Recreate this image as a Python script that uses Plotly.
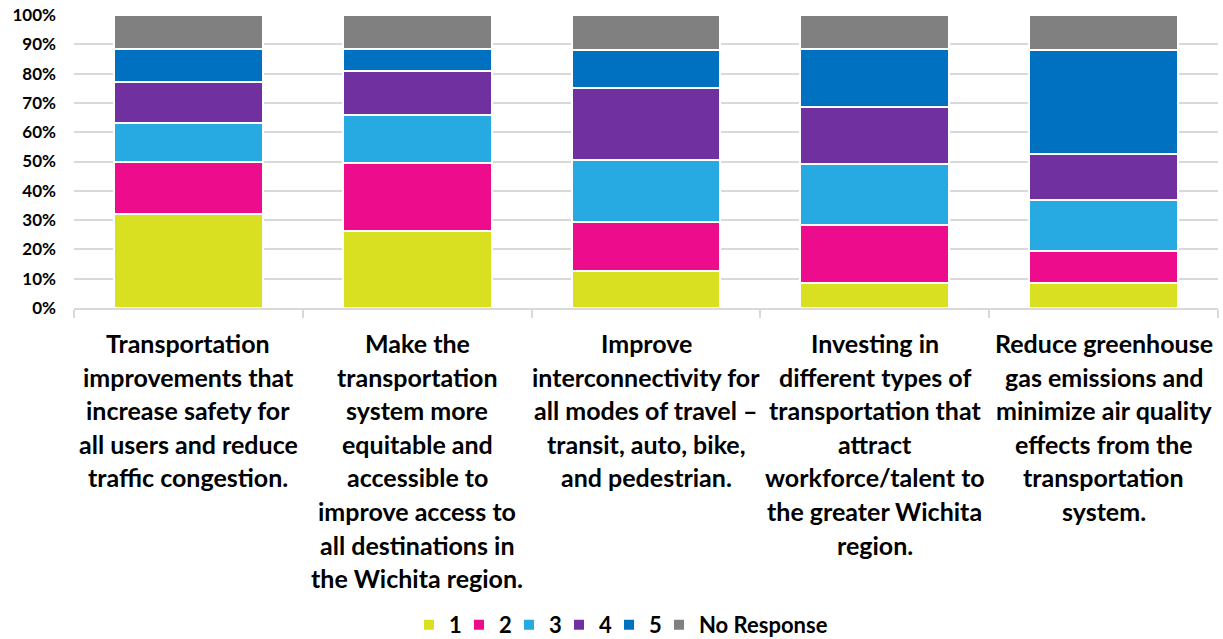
import plotly.graph_objects as go

categories = [
    "Transportation improvements that increase safety for all users and reduce traffic congestion.",
    "Make the transportation system more equitable and accessible to improve access to all destinations in the Wichita region.",
    "Improve interconnectivity for all modes of travel – transit, auto, bike, and pedestrian.",
    "Investing in different types of transportation that attract workforce/talent to the greater Wichita region.",
    "Reduce greenhouse gas emissions and minimize air quality effects from the transportation system.",
]
label_lines = [
    ["Transportation", "improvements that", "increase safety for", "all users and reduce", "traffic congestion."],
    ["Make the", "transportation", "system more", "equitable and", "accessible to", "improve access to",
     "all destinations in", "the Wichita region."],
    ["Improve", "interconnectivity for", "all modes of travel –", "transit, auto, bike,", "and pedestrian."],
    ["Investing in", "different types of", "transportation that", "attract", "workforce/talent to",
     "the greater Wichita", "region."],
    ["Reduce greenhouse", "gas emissions and", "minimize air quality", "effects from the",
     "transportation", "system."],
]

series_names = ["1", "2", "3", "4", "5", "No Response"]
s1 = [32.0, 26.2, 12.5, 8.6, 8.5]
s2 = [18.0, 23.3, 17.0, 19.8, 11.0]
s3 = [13.0, 16.3, 21.0, 20.9, 17.5]
s4 = [14.0, 15.0, 24.5, 19.4, 15.4]
s5 = [11.5, 7.7, 13.2, 19.8, 35.8]
s_nr = [11.5, 11.5, 11.8, 11.5, 11.8]
series_values = [s1, s2, s3, s4, s5, s_nr]
colors = ["#D9E021", "#EC0C8C", "#27AAE1", "#7030A0", "#0070C0", "#808080"]

tick_vals = [0, 10, 20, 30, 40, 50, 60, 70, 80, 90, 100]
tick_text = [f"{v}%" for v in tick_vals]

FONT = "Lato"

fig = go.Figure()
for name, vals, col in zip(series_names, series_values, colors):
    fig.add_trace(go.Bar(
        x=categories, y=vals, name=name,
        marker=dict(color=col, line=dict(color="white", width=2)),
        legendwidth=132 if name == "No Response" else 5,
    ))

# multi-line category labels
annotations = []
for cat, lines in zip(categories, label_lines):
    for j, line in enumerate(lines):
        annotations.append(dict(
            x=cat, xref="x", y=0, yref="paper",
            text=line, showarrow=False,
            xanchor="center", yanchor="middle",
            yshift=-(35 + 33.6 * j),
            font=dict(family=FONT, size=25, color="black", weight="bold"),
        ))

fig.update_layout(
    barmode="stack",
    bargap=0.35,
    width=1223, height=639,
    margin=dict(l=74, r=5, t=15, b=331),
    paper_bgcolor="white", plot_bgcolor="white",
    font=dict(family=FONT, color="black"),
    showlegend=True,
    legend=dict(
        orientation="h", xref="container", x=0.509, xanchor="center",
        yref="container", y=0.022, yanchor="middle",
        font=dict(family=FONT, size=22, color="black", weight="bold"),
        traceorder="normal",
    ),
    annotations=annotations,
)
fig.update_xaxes(
    showticklabels=False, automargin=False,
    showline=True, linecolor="#d9d9d9", linewidth=1.5,
    ticks="outside", tickson="boundaries", ticklen=8, tickcolor="#d9d9d9", tickwidth=1.5,
    showgrid=False,
)
fig.update_yaxes(
    range=[0, 100], tickvals=tick_vals, ticktext=tick_text, automargin=False,
    showgrid=True, gridcolor="#d9d9d9", gridwidth=1.5,
    zeroline=False, showline=False,
    ticklabelstandoff=17,
    tickfont=dict(family=FONT, size=17, color="black", weight="bold"),
)

fig.write_html(
    "out.html",
    config={"displayModeBar": False},
    post_script="document.body.style.margin='0';document.body.style.overflow='hidden';",
)
